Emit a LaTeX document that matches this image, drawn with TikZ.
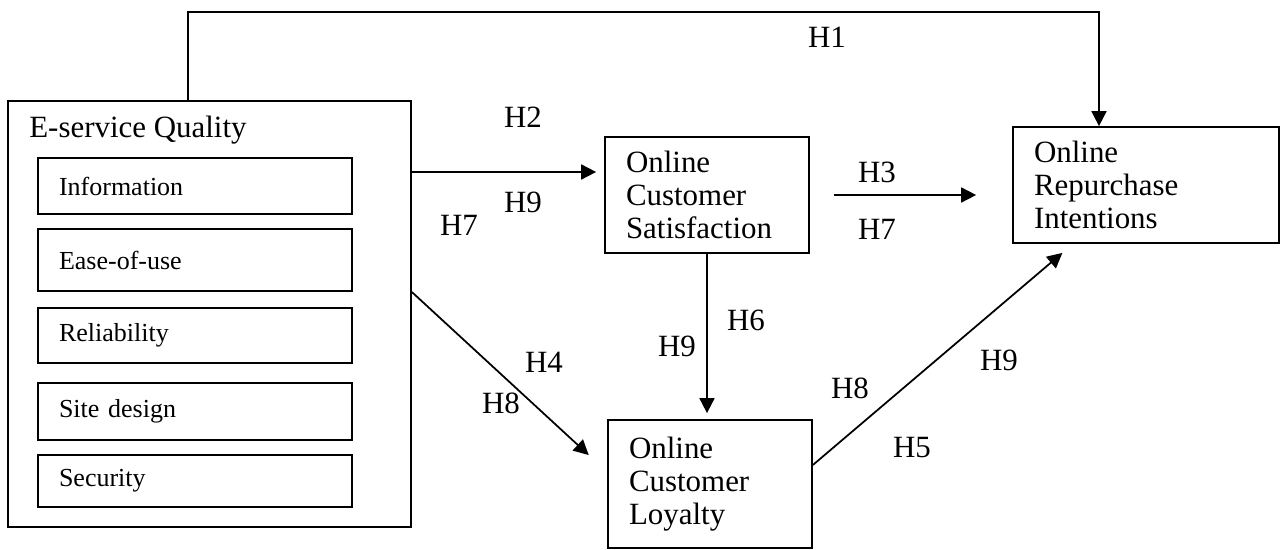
\documentclass[tikz,border=0pt]{standalone}
\usepackage{fontspec}
\setmainfont{Liberation Serif}
\usetikzlibrary{arrows.meta}

\tikzset{
  bigtext/.style={font=\fontsize{17.6}{18.8}\selectfont},
  construct/.style={draw, line width=1pt, rectangle, bigtext, align=left,
    inner xsep=0.42cm, inner ysep=0pt},
  dimension/.style={draw, line width=1pt, rectangle, align=left,
    font=\fontsize{14.8}{16}\selectfont, inner xsep=0.42cm, inner ysep=0pt,
    text width=5.44cm},
  hyp/.style={bigtext, inner sep=0pt},
  arr/.style={-{Triangle[length=0.3cm,width=0.3cm]}, line width=1pt}
}

\begin{document}
\begin{tikzpicture}[x=0.02cm, y=-0.02cm]

  \useasboundingbox (0,0) rectangle (1286,550);

  % E-service quality and its dimensions
  \node[draw, line width=1pt, minimum width=8.06cm, minimum height=8.52cm,
    inner sep=0pt] (quality) at (209.5,314) {};
  \node[bigtext, anchor=base west, inner sep=0pt] (qtitle) at (29,138) {E-service Quality};

	\node[dimension, minimum height=1.12cm] (info) at (195,186) {Information};
	\node[dimension, minimum height=1.24cm] (ease) at (195,260) {Ease-of-use};
	\node[dimension, minimum height=1.10cm] (reli) at (195,335.5) {Reliability};
	\node[dimension, minimum height=1.14cm] (site) at (195,411.5) {Site design};
	\node[dimension, minimum height=1.04cm] (secu) at (195,481) {Security};

  % The three outcomes
	\node[construct, text width=3.24cm, minimum height=2.32cm] (satisfaction) at (707,195)
	  {Online\\Customer\\Satisfaction};
	\node[construct, text width=3.24cm, minimum height=2.56cm] (loyalty) at (710,484)
	  {Online\\Customer\\Loyalty};
	\node[construct, text width=4.48cm, minimum height=2.32cm] (repurchase) at (1146,185)
	  {Online\\Repurchase\\Intentions};

  % Paths
	\coordinate (h1left) at (188,12);
	\coordinate (h1right) at (1099,12);
	\draw[arr] (h1left |- quality.north) -- (h1left) -- (h1right) -- (h1right |- repurchase.north);

	\draw[arr, shorten >=0.16cm] (quality.east |- 0,172) -- (satisfaction.west |- 0,172);
	\draw[arr, shorten <=0.48cm, shorten >=0.72cm] (satisfaction.east |- 0,195) -- (repurchase.west |- 0,195);
	\draw[arr, shorten >=0.12cm] (satisfaction.south) -- (satisfaction.south |- loyalty.north);
	\draw[arr, shorten >=0.5cm] (quality.east |- 0,292) -- (loyalty.west |- 0,472);
	\draw[arr, shorten >=0.28cm] (loyalty.east |- 0,465) -- (1073,0 |- repurchase.south);

  % Hypotheses
	\node[hyp] (h1) at (827,37) {H1};
	\node[hyp] (h2) at (523,117) {H2};
	\node[hyp] (h9a) at (523,202) {H9};
	\node[hyp] (h7a) at (459,225) {H7};
	\node[hyp] (h3) at (877,172) {H3};
	\node[hyp] (h7b) at (877,229) {H7};
	\node[hyp] (h6) at (746,320) {H6};
	\node[hyp] (h9b) at (677,346) {H9};
	\node[hyp] (h4) at (544,362) {H4};
	\node[hyp] (h8a) at (501,403) {H8};
	\node[hyp] (h8b) at (850,388) {H8};
	\node[hyp] (h9c) at (999,360) {H9};
	\node[hyp] (h5) at (912,448) {H5};

\end{tikzpicture}
\end{document}
